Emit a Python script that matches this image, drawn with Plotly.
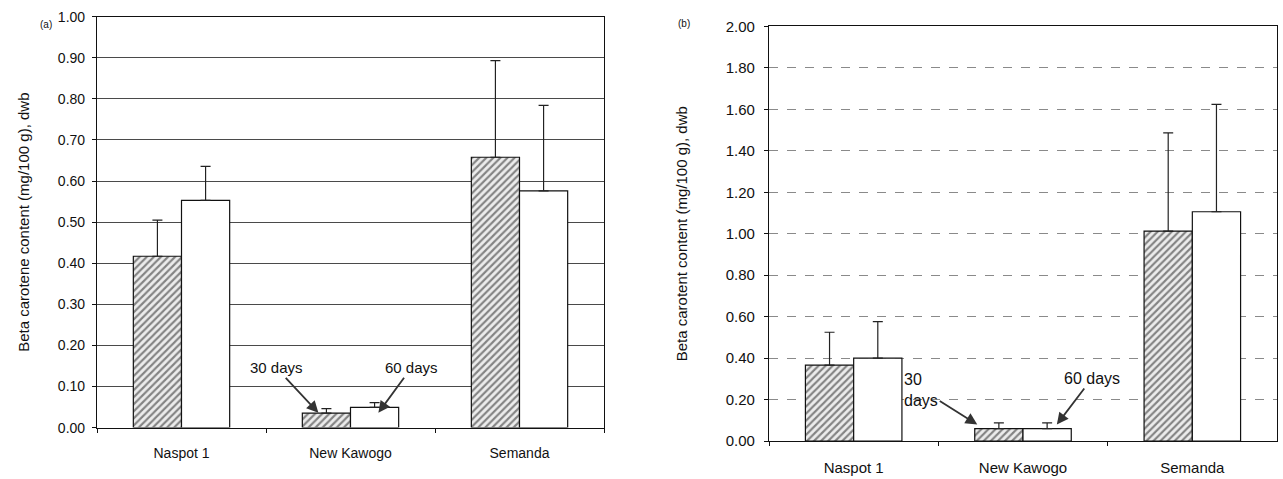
import plotly.graph_objects as go

categories = ["Naspot 1", "New Kawogo", "Semanda"]

# Panel (a)
a_30 = [0.417, 0.035, 0.658]
a_30_err = [0.088, 0.011, 0.235]
a_60 = [0.553, 0.049, 0.576]
a_60_err = [0.083, 0.012, 0.208]

# Panel (b)
b_30 = [0.366, 0.060, 1.013]
b_30_err = [0.159, 0.028, 0.473]
b_60 = [0.400, 0.060, 1.106]
b_60_err = [0.176, 0.028, 0.518]

a_ticks = [round(i * 0.1, 2) for i in range(11)]
b_ticks = [round(i * 0.2, 2) for i in range(11)]

FONT = "Liberation Sans, Arial, sans-serif"
HATCH = dict(shape="/", fgcolor="#1a1a1a", bgcolor="#ececec", size=5, solidity=0.42)

fig = go.Figure()

def add_pair(xa, ya, v30, e30, v60, e60):
    fig.add_trace(go.Bar(
        x=categories, y=v30, xaxis=xa, yaxis=ya, name="30 days",
        marker=dict(color="#ececec", pattern=HATCH, line=dict(color="#111", width=1.2)),
        error_y=dict(type="data", array=e30, arrayminus=[0] * 3, symmetric=False,
                     color="#222", thickness=1.2, width=5),
        showlegend=False))
    fig.add_trace(go.Bar(
        x=categories, y=v60, xaxis=xa, yaxis=ya, name="60 days",
        marker=dict(color="white", line=dict(color="#111", width=1.2)),
        error_y=dict(type="data", array=e60, arrayminus=[0] * 3, symmetric=False,
                     color="#222", thickness=1.2, width=5),
        showlegend=False))

add_pair("x", "y", a_30, a_30_err, a_60, a_60_err)
add_pair("x2", "y2", b_30, b_30_err, b_60, b_60_err)

axis_common = dict(showline=True, linecolor="#111", linewidth=1.2, mirror=True)

fig.update_layout(
    width=1283, height=479,
    margin=dict(l=0, r=0, t=0, b=0),
    paper_bgcolor="white", plot_bgcolor="white",
    barmode="group", bargap=0.43, bargroupgap=0,
    font=dict(family=FONT, color="#111", size=13),
    xaxis=dict(domain=[97 / 1283, 604 / 1283], anchor="y", type="category",
               ticks="outside", tickson="boundaries", ticklen=4, tickcolor="#111",
               ticklabelstandoff=13,
               tickfont=dict(size=14), showgrid=False, **axis_common),
    yaxis=dict(domain=[1 - 434 / 479, 1 - 8 / 479], anchor="x", range=[0, 1.0],
               tickvals=a_ticks, tickformat=".2f", ticks="outside", ticklen=4,
               tickcolor="#111", tickfont=dict(size=14), ticklabelstandoff=4,
               showgrid=True, gridcolor="#4a4a4a", gridwidth=1, zeroline=False,
               title=dict(text="Beta carotene content (mg/100 g), dwb",
                          font=dict(size=15), standoff=24),
               **axis_common),
    xaxis2=dict(domain=[769 / 1283, 1277 / 1283], anchor="y2", type="category",
                ticks="outside", tickson="boundaries", ticklen=4, tickcolor="#111",
                ticklabelstandoff=13,
                tickfont=dict(size=15), showgrid=False, **axis_common),
    yaxis2=dict(domain=[1 - 448 / 479, 1 - 18 / 479], anchor="x2", range=[0, 2.0],
                tickvals=b_ticks, tickformat=".2f", ticks="outside", ticklen=4,
                tickcolor="#111", tickfont=dict(size=15), ticklabelstandoff=6,
                showgrid=True, gridcolor="#8a8a8a", gridwidth=1, griddash="dash",
                zeroline=False,
                title=dict(text="Beta carotent content (mg/100 g), dwb",
                           font=dict(size=15), standoff=34),
                **axis_common),
)

ann_font = dict(family=FONT, size=15, color="#111")
fig.add_annotation(x=0.81, y=0.036, xref="x", yref="y", text="30 days",
                   ax=-42, ay=-45, showarrow=True, arrowhead=2, arrowsize=1.3,
                   arrowwidth=1.8, arrowcolor="#333", font=ann_font)
fig.add_annotation(x=1.165, y=0.036, xref="x", yref="y", text="60 days",
                   ax=33, ay=-45, showarrow=True, arrowhead=2, arrowsize=1.3,
                   arrowwidth=1.8, arrowcolor="#333", font=ann_font)
fig.add_annotation(x=0.73, y=0.08, xref="x2", yref="y2", text="30<br>days",
                   ax=-56, ay=-35, showarrow=True, arrowhead=2, arrowsize=1.3,
                   arrowwidth=1.8, arrowcolor="#333", align="left",
                   font=dict(family=FONT, size=16, color="#111"))
fig.add_annotation(x=1.2, y=0.08, xref="x2", yref="y2", text="60 days",
                   ax=35, ay=-46, showarrow=True, arrowhead=2, arrowsize=1.3,
                   arrowwidth=1.8, arrowcolor="#333",
                   font=dict(family=FONT, size=16, color="#111"))

fig.add_annotation(x=38 / 1283, y=1 - 8 / 479, xref="paper", yref="paper",
                   text="(a)", showarrow=False, font=dict(family=FONT, size=10, color="#111"))
fig.add_annotation(x=684 / 1283, y=1 - 7 / 479, xref="paper", yref="paper",
                   text="(b)", showarrow=False, font=dict(family=FONT, size=10, color="#111"))

fig.write_html("out.html", config={"displayModeBar": False},
               post_script="document.body.style.margin='0';document.body.style.overflow='hidden';")
